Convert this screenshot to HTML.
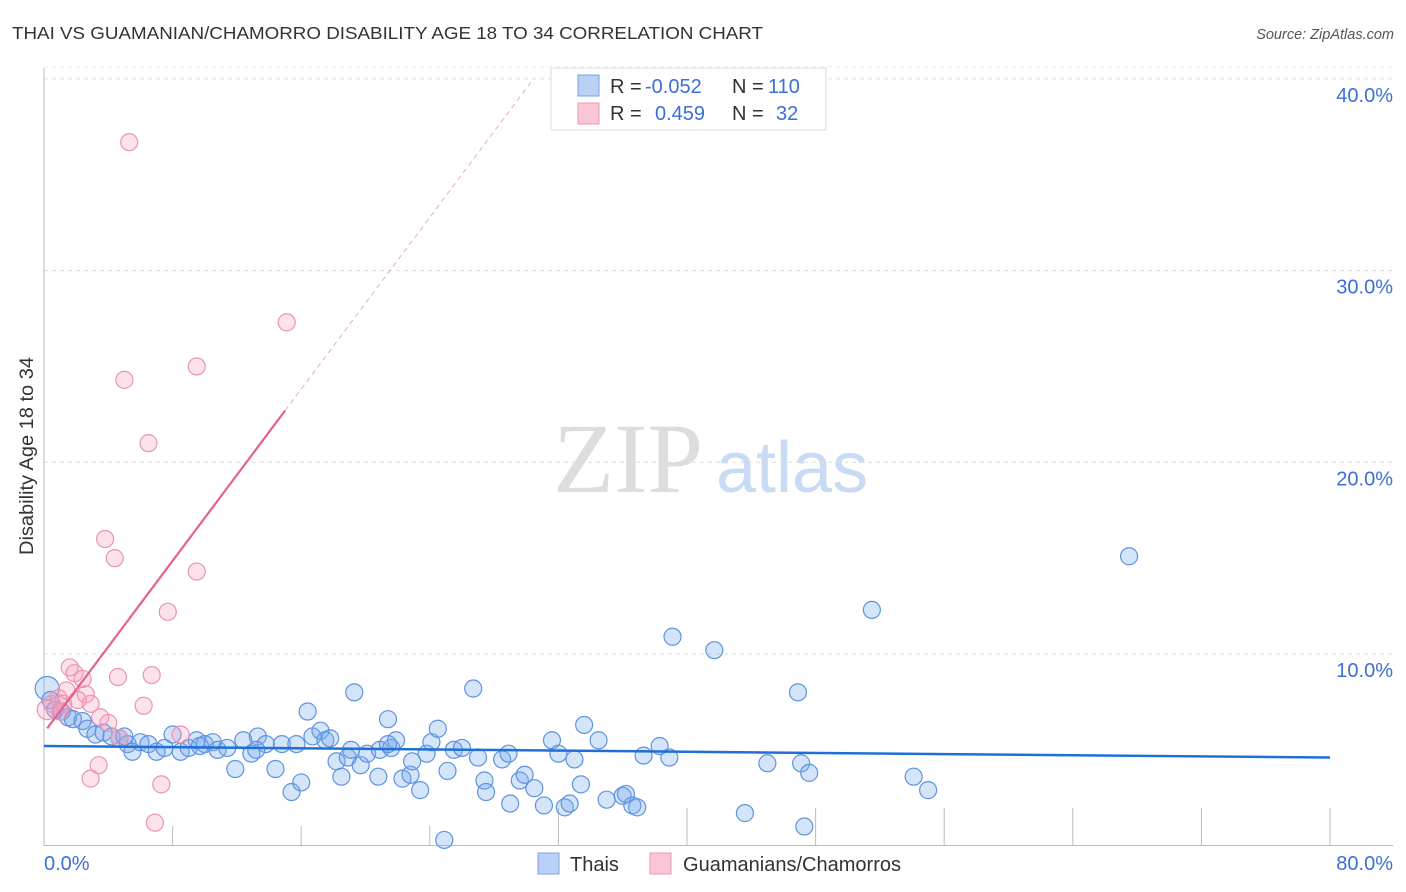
<!DOCTYPE html>
<html><head><meta charset="utf-8"><style>
body{margin:0;background:#fff;font-family:"Liberation Sans",sans-serif;}
svg{display:block}
</style></head><body>
<svg width="1406" height="892" xmlns="http://www.w3.org/2000/svg">
<text x="12" y="39" font-size="17.5" fill="#333" textLength="751" lengthAdjust="spacingAndGlyphs">THAI VS GUAMANIAN/CHAMORRO DISABILITY AGE 18 TO 34 CORRELATION CHART</text>
<text x="1394" y="39" font-size="14.5" fill="#555" font-style="italic" text-anchor="end">Source: ZipAtlas.com</text>
<g>
<text x="553" y="492" font-family="Liberation Serif,serif" font-size="100" fill="#ddd">ZIP</text>
<text x="716" y="492" font-size="72" fill="#c8daf4">atlas</text>
</g>
<g id="grid"></g>
<g id="axes"></g>
<g id="marks"></g>
<g>
<rect x="551" y="68" width="275" height="62" fill="#fff" stroke="#ddd"/>
<rect x="578" y="75" width="21" height="21" fill="#b8d1f4" stroke="#7aa3e0"/>
<rect x="578" y="103" width="21" height="21" fill="#f9c6d5" stroke="#eb9ab4"/>
<text x="610" y="93" font-size="20" fill="#333">R = <tspan fill="#3a6fd8" x="645">-0.052</tspan><tspan x="732" fill="#333">N = </tspan><tspan fill="#3a6fd8" x="768">110</tspan></text>
<text x="610" y="120" font-size="20" fill="#333">R = <tspan fill="#3a6fd8" x="655">0.459</tspan><tspan x="732" fill="#333">N = </tspan><tspan fill="#3a6fd8" x="776">32</tspan></text>
</g>
<g>
<rect x="538" y="853" width="21" height="21" fill="#b8d1f4" stroke="#7aa3e0"/>
<text x="570" y="871" font-size="20" fill="#333">Thais</text>
<rect x="650" y="853" width="21" height="21" fill="#f9c6d5" stroke="#eb9ab4"/>
<text x="683" y="871" font-size="20" fill="#333" textLength="218" lengthAdjust="spacingAndGlyphs">Guamanians/Chamorros</text>
</g>
<text transform="translate(33,456) rotate(-90)" font-size="19" fill="#333" text-anchor="middle" textLength="198" lengthAdjust="spacingAndGlyphs">Disability Age 18 to 34</text>
</svg>
<script>
const blueX=[0.2,0.4,0.7,1.1,1.5,1.8,2.4,2.7,3.2,3.7,4.2,4.7,5.2,5.5,6.0,6.5,7.0,7.5,8.0,8.5,9.0,9.5,10.0,10.5,10.8,11.4,11.9,12.4,12.9,13.3,13.8,14.4,14.8,15.4,15.7,16.0,16.4,16.7,17.2,17.5,17.8,18.2,18.5,18.9,19.3,19.7,20.1,20.8,20.9,21.4,21.6,21.9,22.3,22.8,22.9,23.4,23.8,24.1,24.5,24.9,25.1,25.5,26.7,27.0,27.4,27.5,28.5,28.9,29.0,29.6,29.9,30.5,31.1,31.6,32.0,32.4,32.7,33.4,33.6,34.5,35.0,36.0,36.2,36.6,36.9,37.3,38.3,39.1,38.9,41.7,43.6,45.0,46.9,47.1,47.3,47.6,51.5,54.1,55.0,67.5,5.0,9.7,13.2,19.1,21.4,26.0,33.0];
const blueY=[8.2,7.6,7.1,7.0,6.7,6.6,6.5,6.1,5.8,5.9,5.7,5.6,5.3,4.9,5.4,5.3,4.9,5.1,5.8,4.9,5.1,5.5,5.3,5.4,5.0,5.1,4.0,5.5,4.8,5.7,5.3,4.0,5.3,2.8,5.3,3.3,7.0,5.7,6.0,5.5,5.6,4.4,3.6,4.6,8.0,4.2,4.8,3.6,5.0,6.6,5.1,5.5,3.5,3.7,4.4,2.9,4.8,5.4,6.1,0.3,3.9,5.0,8.2,4.6,3.4,2.8,4.5,4.8,2.2,3.4,3.7,3.0,2.1,5.5,4.8,2.0,2.2,3.2,6.3,5.5,2.4,2.6,2.7,2.1,2.0,4.7,5.2,10.9,4.6,10.2,1.7,4.3,8.0,4.3,1.0,3.8,12.3,3.6,2.9,15.1,5.7,5.2,5.0,5.0,5.3,5.1,4.5];
const pinkX=[0.2,0.5,0.9,1.2,1.6,1.9,2.4,2.6,2.9,3.5,3.4,4.0,2.9,3.8,4.4,4.6,5.0,5.3,6.2,6.5,6.7,6.9,7.3,7.7,8.5,9.5,9.5,15.1,4.7,1.0,2.1,1.4];
const pinkY=[7.1,7.4,7.7,7.4,9.3,9.0,8.7,7.9,7.4,6.7,4.2,6.4,3.5,16.0,15.0,8.8,24.3,36.7,7.3,21.0,8.9,1.2,3.2,12.2,5.8,14.3,25.0,27.3,5.6,7.0,7.6,8.1];
const blueTrend=[5.2,4.6];
const pinkTrend=[5.9,1.12];
const xTicks=[0,8,16,24,32,40,48,56,64,72,80];
const yTicks=[10,20,30,40];
const NS='http://www.w3.org/2000/svg';
const xS=v=>44+v*(1286/80);
const yS=v=>845.7-v*19.17;
function mk(t,a,p){const e=document.createElementNS(NS,t);for(const k in a)e.setAttribute(k,a[k]);p.appendChild(e);return e;}
const grid=document.getElementById('grid'),axes=document.getElementById('axes'),marks=document.getElementById('marks');
yTicks.forEach(v=>{
 const l=mk('line',{x1:44,x2:1393,y1:yS(v),y2:yS(v),stroke:'#ddd','stroke-dasharray':'4,4'},grid);
 
 
 const t=mk('text',{x:1393,y:yS(v)+23,'font-size':20,fill:'#3a6fd8','text-anchor':'end'},axes);
 t.textContent=v.toFixed(1)+'%';
 
 
});
mk('line',{x1:44,x2:1393,y1:yS(40)-12,y2:yS(40)-12,stroke:'#eee','stroke-dasharray':'4,4'},grid);
const ax=mk('line',{x1:44,x2:44,y1:68,y2:846,stroke:'#bbb'},axes);


const bx=mk('line',{x1:44,x2:1393,y1:845.5,y2:845.5,stroke:'#bbb'},axes);


xTicks.forEach((v,i)=>{
 if(i===0)return;
 const tk=mk('line',{x1:xS(v),x2:xS(v),y1:i>=4?808:826,y2:846,stroke:'#bbb'},axes);
 
 
});
const t0=mk('text',{x:44,y:870,'font-size':20,fill:'#3a6fd8'},axes);t0.textContent=xTicks[0].toFixed(1)+'%';


const t1=mk('text',{x:1393,y:870,'font-size':20,fill:'#3a6fd8','text-anchor':'end'},axes);t1.textContent=xTicks[10].toFixed(1)+'%';


blueX.forEach((x,i)=>{
 const c=mk('circle',{cx:xS(x),cy:yS(blueY[i]),r:i===0?12:8.5,fill:'rgba(120,170,235,0.32)',stroke:'#5f93e0','stroke-width':1.2},marks);
 
 
});
pinkX.forEach((x,i)=>{
 const c=mk('circle',{cx:xS(x),cy:yS(pinkY[i]),r:i===0?10:8.5,fill:'rgba(245,160,190,0.3)',stroke:'#ec93b0','stroke-width':1.2},marks);
 
 
});
const bl=mk('line',{x1:xS(0),y1:yS(blueTrend[0]),x2:xS(80),y2:yS(blueTrend[1]),stroke:'#1f6fd6','stroke-width':2.5},marks);


const pEnd=(40-pinkTrend[0])/pinkTrend[1];
const pl=mk('line',{x1:xS(0.2),y1:yS(pinkTrend[0]+pinkTrend[1]*0.2),x2:xS(15),y2:yS(pinkTrend[0]+pinkTrend[1]*15),stroke:'#e8608f','stroke-width':2.2},marks);


const pd=mk('line',{x1:xS(15),y1:yS(pinkTrend[0]+pinkTrend[1]*15),x2:xS(pEnd),y2:yS(40),stroke:'#eeaac0','stroke-width':1,'stroke-dasharray':'5,4'},marks);


</script>
</body></html>
